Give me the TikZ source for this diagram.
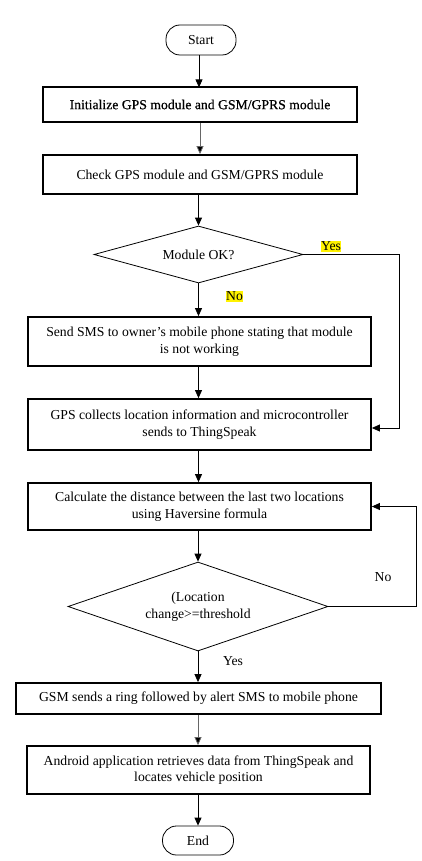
\documentclass[tikz,border=0pt]{standalone}
\usepackage{fontspec}
\setmainfont{Liberation Serif}
\newfontfamily\heavyserif[FakeBold=0.6]{Liberation Serif}
\usetikzlibrary{shapes.geometric,arrows.meta,positioning}
\begin{document}
\begin{tikzpicture}[x=1pt,y=-1pt,
  every node/.style={font=\fontsize{13.7}{16.7}\selectfont},
  procbox/.style={draw,line width=1.8pt,rectangle,align=center,inner sep=0pt},
  termbox/.style={draw,line width=0.8pt,rectangle,rounded corners=14pt,minimum width=70pt,minimum height=30pt,inner sep=0pt},
  decbox/.style={draw,line width=0.8pt,diamond,align=center,inner sep=0pt},
  conn/.style={line width=0.8pt,-{Triangle[length=8pt,width=7pt]}},
  greyconn/.style={conn,draw=black!60,-{Triangle[length=8pt,width=7pt,fill=black]}},
  hl/.style={fill=yellow,inner sep=0.5pt}]
\useasboundingbox (0,0) rectangle (422,861);
\node[termbox] (start) at (201,40) {Start};
\node[procbox,minimum width=314pt,minimum height=35pt,font=\fontsize{13.7}{16.7}\heavyserif] (init) at (200,104.5) {Initialize GPS module and GSM/GPRS module};
\node[procbox,minimum width=314pt,minimum height=39pt] (check) at (200,174.5) {Check GPS module and GSM/GPRS module};
\node[decbox,aspect=3.67,minimum width=209pt,minimum height=57pt] (d1) at (198.5,254.5) {Module OK?};
\node[procbox,minimum width=343pt,minimum height=49pt] (sms) at (199.5,341.5) {Send SMS to owner’s mobile phone stating that module\\is not working};
\node[procbox,minimum width=343pt,minimum height=51pt] (gps) at (199.5,424.5) {GPS collects location information and microcontroller\\sends to ThingSpeak};
\node[procbox,minimum width=343pt,minimum height=47pt] (calc) at (199.5,506.5) {Calculate the distance between the last two locations\\using Haversine formula};
\node[decbox,aspect=2.92,minimum width=260pt,minimum height=89pt] (d2) at (198,606.5) {(Location\\change>=threshold};
\node[procbox,minimum width=365pt,minimum height=31pt] (gsm) at (198.5,698.5) {GSM sends a ring followed by alert SMS to mobile phone};
\node[procbox,minimum width=343pt,minimum height=48pt] (android) at (198.5,770) {Android application retrieves data from ThingSpeak and\\locates vehicle position};
\node[termbox,minimum width=71pt,minimum height=29pt] (end) at (198,840.5) {End};

\draw[conn] (start.south -| init.north) ++(-1,0) -- ++(0,32);
\draw[greyconn] (init) -- (check);
\draw[conn] (check.south -| d1.north) -- (d1.north);
\draw[conn] (d1.south) -- (d1.south |- sms.north);
\draw[conn] (sms.south -| d1.south) -- (d1.south |- gps.north);
\draw[conn] (gps.south -| d1.south) -- (d1.south |- calc.north);
\draw[conn] (calc.south -| d2.north) -- (d2.north);
\draw[conn] (d2.south) -- (d2.south |- gsm.north);
\draw[greyconn] (gsm.south -| d2.south) -- (d2.south |- android.north);
\draw[conn] (android.south -| end.north) -- (end.north);

\coordinate (ycorner) at (399,254.5);
\coordinate (ydown) at (399,428);
\draw[conn] (d1.east) -- (ycorner) -- (ydown) -- (ydown -| gps.east);
\coordinate (ncorner) at (416,606.5);
\draw[conn] (d2.east) -- (ncorner) |- (calc.east);

\node[hl] (yes1) at (331,246.5) {Yes};
\node[hl] (no1) at (234.5,296.5) {No};
\node (no2) at (383,577) {No};
\node (yes2) at (233,661) {Yes};
\end{tikzpicture}
\end{document}
